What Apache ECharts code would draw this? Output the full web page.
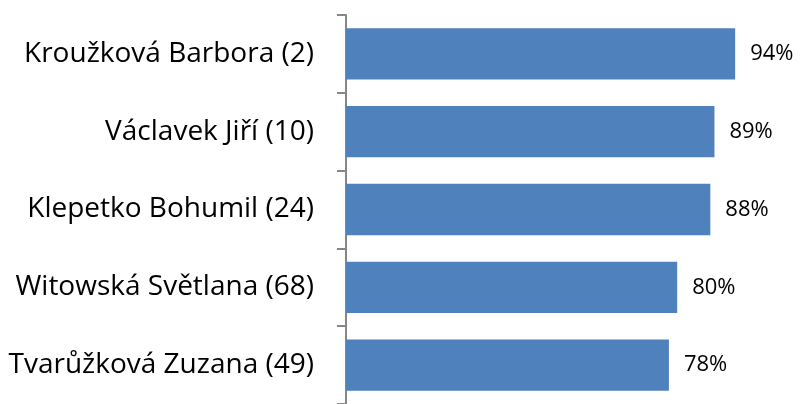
<!DOCTYPE html>
<html>
<head>
<meta charset="utf-8">
<script src="https://cdn.jsdelivr.net/npm/echarts@6/dist/echarts.min.js"></script>
<style>
  html, body { margin: 0; padding: 0; background: #fff; }
  #chart { width: 800px; height: 404px; }
</style>
</head>
<body>
<div id="chart"></div>
<script>
const categories = [
  'Kroužková Barbora (2)',
  'Václavek Jiří (10)',
  'Klepetko Bohumil (24)',
  'Witowská Světlana (68)',
  'Tvarůžková Zuzana (49)'
]
const values = [94, 89, 88, 80, 78]

const chart = echarts.init(document.getElementById('chart'))

const option = {
  animation: false,
  grid: {
    left: 346,
    top: 15,
    height: 392,
    right: 40
  },
  xAxis: {
    type: 'value',
    min: 0,
    max: 100,
    show: false
  },
  yAxis: {
    type: 'category',
    data: categories,
    inverse: true,
    axisLine: { lineStyle: { color: '#868686', width: 2 } },
    axisTick: { show: true, length: 9, lineStyle: { color: '#868686', width: 2 } },
    axisLabel: {
      color: '#000',
      fontFamily: 'Open Sans',
      fontSize: 28,
      margin: 32
    },
    splitLine: { show: false }
  },
  series: [{
    type: 'bar',
    data: values,
    barCategoryGap: '34%',
    itemStyle: { color: '#4F81BD' },
    label: {
      show: true,
      position: 'right',
      distance: 15,
      color: '#000',
      fontFamily: 'Open Sans',
      fontSize: 22,
      formatter: p => p.value + '%'
    }
  }]
}

chart.setOption(option)
</script>
</body>
</html>
